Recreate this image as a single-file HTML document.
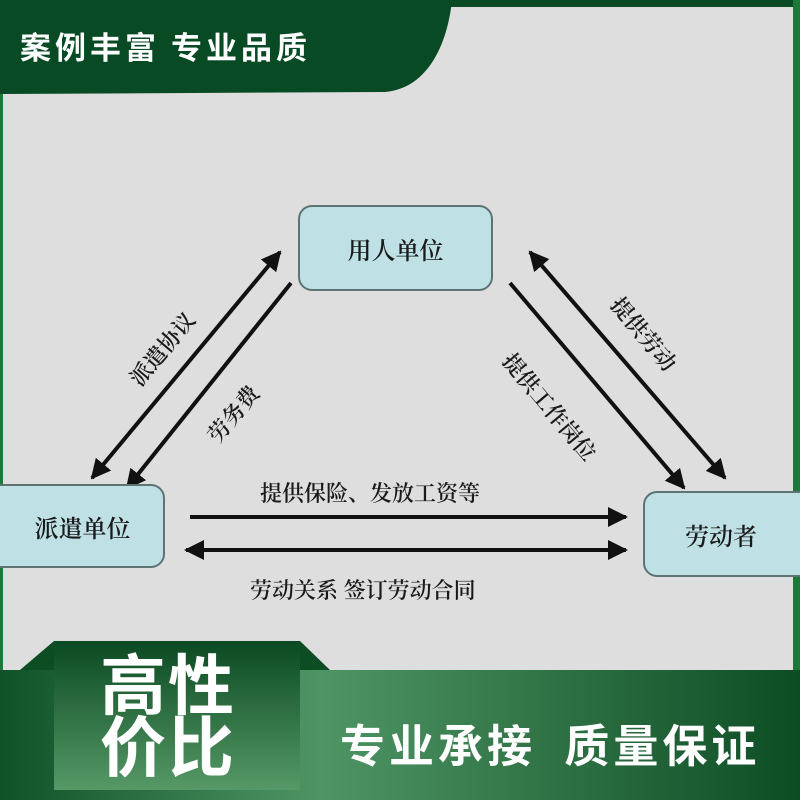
<!DOCTYPE html>
<html><head><meta charset="utf-8"><style>
body{margin:0;width:800px;height:800px;overflow:hidden;background:#dedede;font-family:"Liberation Sans","Noto Sans CJK SC",sans-serif}
.box{position:absolute;background:#bfe1e5;border:2px solid #5d7474;border-radius:14px;box-sizing:border-box;display:flex;align-items:center;justify-content:center;font-size:24px;color:#1a1a1a;font-family:"Noto Serif CJK SC","Noto Sans CJK SC",serif;font-weight:600}
.lbl{position:absolute;font-size:22px;color:#1a1a1a;white-space:nowrap;font-family:"Noto Serif CJK SC","Noto Sans CJK SC",serif;font-weight:600}
</style></head><body>
<svg width="800" height="800" style="position:absolute;left:0;top:0">
<defs>
<linearGradient id="band" x1="0" x2="1" y1="0" y2="0"><stop offset="0" stop-color="#0f5228"/><stop offset="0.4" stop-color="#4f9564"/><stop offset="1" stop-color="#0d4d24"/></linearGradient>
<linearGradient id="tab" x1="0" x2="0" y1="0" y2="1"><stop offset="0" stop-color="#0b4a22"/><stop offset="1" stop-color="#569866"/></linearGradient>
<marker id="ah" viewBox="0 0 10 10" refX="9" refY="5" markerWidth="5" markerHeight="5" orient="auto-start-reverse"><path d="M0,0L10,5L0,10z" fill="#111"/></marker>
</defs>
<rect x="0" y="0" width="800" height="7" fill="#0a4a24"/>
<rect x="0" y="0" width="3" height="800" fill="#1b7a3a"/>
<rect x="793" y="0" width="7" height="800" fill="#1b7a3a"/>
<path d="M0,0H452C448,40 430,88 385,92L0,94Z" fill="#074a24"/>
<text x="20" y="59" font-size="31" font-weight="bold" fill="#fff" font-family="Noto Sans CJK SC,sans-serif" letter-spacing="4">案例丰富 专业品质</text>
<g stroke="#111" stroke-width="4" fill="none">
<line x1="92" y1="478" x2="280" y2="252" marker-start="url(#ah)" marker-end="url(#ah)"/>
<line x1="291" y1="283" x2="127" y2="488" marker-end="url(#ah)"/>
<line x1="530" y1="252" x2="725" y2="478" marker-start="url(#ah)" marker-end="url(#ah)"/>
<line x1="510" y1="283" x2="684" y2="488" marker-end="url(#ah)"/>
<line x1="190" y1="517" x2="626" y2="517" marker-end="url(#ah)"/>
<line x1="186" y1="550" x2="626" y2="550" marker-start="url(#ah)" marker-end="url(#ah)"/>
</g>
<rect x="0" y="670" width="800" height="130" fill="url(#band)"/>
<path d="M20,670L54,641H54V670Z" fill="#0d4d24"/>
<path d="M300,641L330,670H300Z" fill="#0d4d24"/>
<rect x="54" y="641" width="246" height="149" fill="url(#tab)"/>
</svg>
<div class="box" style="left:298px;top:205px;width:195px;height:86px">用人单位</div>
<div class="box" style="left:-14px;top:484px;width:179px;height:84px;padding-left:14px">派遣单位</div>
<div class="box" style="left:643px;top:491px;width:170px;height:86px;padding-right:14px">劳动者</div>
<div class="lbl" style="left:118px;top:333px;transform:rotate(-50deg)">派遣协议</div>
<div class="lbl" style="left:200px;top:398px;transform:rotate(-50deg)">劳务费</div>
<div class="lbl" style="left:600px;top:318px;transform:rotate(50deg)">提供劳动</div>
<div class="lbl" style="left:484px;top:391px;transform:rotate(50deg)">提供工作岗位</div>
<div class="lbl" style="left:260px;top:477px">提供保险、发放工资等</div>
<div class="lbl" style="left:250px;top:574px">劳动关系 签订劳动合同</div>
<div style="position:absolute;left:100px;top:650px;width:150px;font-size:66px;line-height:62px;font-weight:bold;color:#fff;font-family:'Noto Sans CJK SC',sans-serif;letter-spacing:2px">高性<br>价比</div>
<div style="position:absolute;left:340px;top:710px;font-size:45px;font-weight:bold;color:#fff;font-family:'Noto Sans CJK SC',sans-serif;white-space:nowrap;letter-spacing:4px">专业承接&nbsp;&nbsp;质量保证</div>
</body></html>
